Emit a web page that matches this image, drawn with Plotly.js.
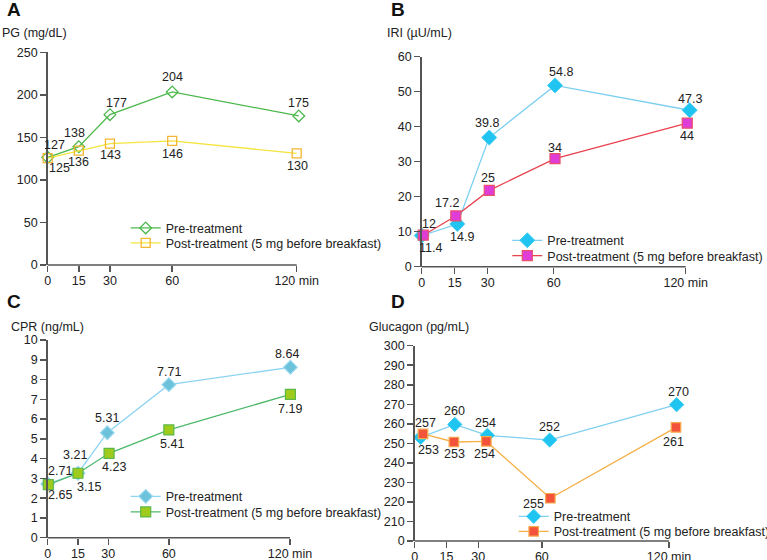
<!DOCTYPE html>
<html><head><meta charset="utf-8">
<script src="https://cdn.plot.ly/plotly-3.0.1.min.js"></script>
<style>html,body{margin:0;padding:0;background:#fff}</style>
</head><body><div id="chart" style="width:767px;height:560px"></div>
<script>
// ---------- DATA ----------
const timeTicks = [0, 15, 30, 60, 120];
const timeTickText = ["0", "15", "30", "60", "120 min"];
const seriesNames = ["Pre-treatment", "Post-treatment (5 mg before breakfast)"];

// Panel A: PG (mg/dL)
const pgPreX = [0, 15, 30, 60, 121];
const pgPreY = [126.5, 139, 176.7, 203.4, 175.2];
const pgPreLabels = ["127", "138", "177", "204", "175"];
const pgPostX = [0, 15, 30, 60, 120];
const pgPostY = [125.5, 134.4, 142.6, 145.8, 131.3];
const pgPostLabels = ["125", "136", "143", "146", "130"];

// Panel B: IRI (µU/mL)
const iriPreX = [0, 16.2, 30.7, 60.6, 121.8];
const iriPreY = [8.9, 12.2, 36.9, 51.8, 44.7];
const iriPreLabels = ["11.4", "14.9", "39.8", "54.8", "47.3"];
const iriPostX = [0.7, 15.5, 30.7, 60.6, 120.7];
const iriPostY = [9.0, 14.5, 21.8, 30.9, 41.0];
const iriPostLabels = ["12", "17.2", "25", "34", "44"];

// Panel C: CPR (ng/mL)
const cprPreX = [0, 15, 29.5, 60, 120.2];
const cprPreY = [2.72, 3.26, 5.31, 7.74, 8.62];
const cprPreLabels = ["2.71", "3.21", "5.31", "7.71", "8.64"];
const cprPostX = [0.3, 15, 30.4, 60, 120.2];
const cprPostY = [2.68, 3.26, 4.27, 5.45, 7.25];
const cprPostLabels = ["2.65", "3.15", "4.23", "5.41", "7.19"];

// Panel D: Glucagon (pg/mL), broken axis 0 | 210..300
const gluPreX = [2.8, 18.9, 34.3, 63.7, 123.6];
const gluPreY = [253.1, 259.7, 254.1, 251.7, 269.8];
const gluPreLabels = ["253", "260", "254", "252", "270"];
const gluPostX = [3.9, 18.5, 33.8, 64, 123.3];
const gluPostY = [254.9, 250.7, 251.0, 221.9, 258.2];
const gluPostLabels = ["257", "253", "254", "255", "261"];
const gluTickVals = [0, 210, 220, 230, 240, 250, 260, 270, 280, 290, 300];
const gluBreakBase = 200; // axis break: values above the break are drawn as (v - 200)

// ---------- STYLE / LAYOUT ----------
const W = 767, H = 560;
const FONT = "Liberation Sans, Arial, Helvetica, sans-serif";
const FS = 12.5;
const TXT = "#222";
const AXC = "#555";
const px = v => v / W, py = v => 1 - v / H;
const XMAX = 126; // axis range end (axis line drawn only to 120)

// label offsets (dx, dy in px; dy positive = downward)
const offA_pre = [[7, -12], [-4, -14], [6.7, -11.4], [0, -14.7], [0, -13.3]];
const offA_post = [[12, 10], [0, 11.6], [1, 11.3], [0, 12.7], [1, 12.4]];
const offB_pre = [[9, 12.6], [5, 13.3], [-2.6, -14.4], [5.7, -13.6], [0, -11.6]];
const offB_post = [[5.7, -11.3], [-8.4, -12.7], [-1, -12], [0, -11], [0, 12.7]];
const offC_pre = [[12.6, -13], [-2.7, -18.3], [0, -15], [0.6, -12.4], [-3, -13.3]];
const offC_post = [[11.7, 10.3], [10.6, 13.4], [5, 13.4], [3.6, 14], [0, 14.7]];
const offD_pre = [[7.6, 12.7], [0, -13.3], [-1.6, -12], [0, -13.3], [1.6, -12.4]];
const offD_post = [[2.7, -10.4], [0.7, 12], [-1.6, 12.7], [-17, 6], [-2, 15]];

// pixel positions of x=0 and x=120, y-top and y-bottom
const panels = [
  {key: "", x0: 47.7, x120: 296.7, top: 52.3, bot: 265, yr: [0, 250], dt: 50},
  {key: "2", x0: 421.7, x120: 685.7, top: 56.7, bot: 266.7, yr: [0, 60], dt: 10},
  {key: "3", x0: 47.7, x120: 290, top: 340, bot: 537.7, yr: [0, 10], dt: 1},
  {key: "4", x0: 414.7, x120: 669, top: 345.7, bot: 541, yr: [0, 100], dt: 10}
];

const axBase = {
  showgrid: false, zeroline: false, showline: true, linecolor: AXC, linewidth: 1.5,
  ticks: "outside", ticklen: 6, tickwidth: 1.5, tickcolor: AXC,
  tickfont: {family: FONT, size: FS, color: TXT}, fixedrange: true, automargin: false
};

const layout = {
  width: W, height: H, margin: {l: 0, r: 0, t: 0, b: 0, autoexpand: false},
  paper_bgcolor: "#fff", plot_bgcolor: "rgba(0,0,0,0)",
  font: {family: FONT, size: FS, color: TXT},
  annotations: [], shapes: [], showlegend: true
};

panels.forEach(p => {
  const right = p.x0 + (p.x120 - p.x0) * XMAX / 120;
  layout["xaxis" + p.key] = Object.assign({}, axBase, {
    domain: [px(p.x0), px(right)], range: [0, XMAX], showline: false,
    tickmode: "array", tickvals: timeTicks, ticktext: timeTickText,
    ticklabelstandoff: -2, anchor: "y" + p.key
  });
  const ya = Object.assign({}, axBase, {
    domain: [py(p.bot), py(p.top)], range: p.yr, dtick: p.dt, tick0: 0,
    anchor: "x" + p.key
  });
  if (p.key === "4") {
    ya.tickmode = "array";
    ya.tickvals = gluTickVals.map(v => v === 0 ? 0 : v - gluBreakBase);
    ya.ticktext = gluTickVals.map(String);
  }
  layout["yaxis" + p.key] = ya;
  layout.shapes.push({
    type: "line", xref: "x" + p.key, yref: "paper",
    x0: 0, x1: timeTicks[timeTicks.length - 1], y0: py(p.bot), y1: py(p.bot),
    line: {color: AXC, width: 1.5}, layer: "above"
  });
});

const traces = [];
function addSeries(xs, ys, labels, offs, axKey, legendId, name, marker, lineColor, legendPos) {
  traces.push({
    type: "scatter", mode: "lines+markers", x: xs, y: ys, name: name,
    xaxis: "x" + axKey, yaxis: "y" + axKey, cliponaxis: false,
    line: {color: lineColor, width: 1.3}, marker: marker,
    legend: legendId, showlegend: true, hoverinfo: "skip"
  });
  labels.forEach((t, i) => {
    layout.annotations.push({
      xref: "x" + axKey, yref: "y" + axKey, x: xs[i], y: ys[i], text: t,
      showarrow: false, xanchor: "center", yanchor: "middle",
      xshift: offs[i][0], yshift: -offs[i][1],
      font: {family: FONT, size: FS, color: TXT}
    });
  });
  layout[legendId] = {
    x: px(legendPos[0] - 36), y: py(legendPos[1]), xanchor: "left", yanchor: "middle",
    bgcolor: "rgba(0,0,0,0)", borderwidth: 0,
    font: {family: FONT, size: FS, color: TXT}
  };
}

const glu = v => v - gluBreakBase;

addSeries(pgPreX, pgPreY, pgPreLabels, offA_pre, "", "legend", seriesNames[0],
  {symbol: "diamond-open", size: 9, color: "#4cb84c", line: {width: 1.3, color: "#4cb84c"}}, "#4cb84c", [161.7, 228.3]);
addSeries(pgPostX, pgPostY, pgPostLabels, offA_post, "", "legend2", seriesNames[1],
  {symbol: "square-open", size: 9, color: "#f2b632", line: {width: 1.3, color: "#f2b632"}}, "#f3e53e", [161.7, 243.3]);

addSeries(iriPreX, iriPreY, iriPreLabels, offB_pre, "2", "legend3", seriesNames[0],
  {symbol: "diamond", size: 11.5, color: "#1fc4f0", line: {width: 1, color: "#3fcdf2"}}, "#7dcff0", [543.3, 240.7]);
addSeries(iriPostX, iriPostY, iriPostLabels, offB_post, "2", "legend4", seriesNames[1],
  {symbol: "square", size: 10, color: "#e03cd8", line: {width: 1.2, color: "#e8506a"}}, "#e8434f", [543.3, 256]);

addSeries(cprPreX, cprPreY, cprPreLabels, offC_pre, "3", "legend5", seriesNames[0],
  {symbol: "diamond", size: 10.5, color: "#6cc2da", line: {width: 1.2, color: "#98d8ee"}}, "#8dd4f2", [161.7, 496.7]);
addSeries(cprPostX, cprPostY, cprPostLabels, offC_post, "3", "legend6", seriesNames[1],
  {symbol: "square", size: 10, color: "#9fcc1c", line: {width: 1.2, color: "#5cb848"}}, "#4cb86a", [161.7, 512.3]);

addSeries(gluPreX, gluPreY.map(glu), gluPreLabels, offD_pre, "4", "legend7", seriesNames[0],
  {symbol: "diamond", size: 11, color: "#1fc4f0", line: {width: 1, color: "#3fcdf2"}}, "#80d0f0", [549.7, 516.7]);
addSeries(gluPostX, gluPostY.map(glu), gluPostLabels, offD_post, "4", "legend8", seriesNames[1],
  {symbol: "square", size: 9.5, color: "#f2533a", line: {width: 1.2, color: "#f7a94a"}}, "#f5b048", [549.7, 531.7]);

// panel letters & y-axis titles
const letters = [["A", 13.7, 9.5], ["B", 397.7, 9.5], ["C", 13.7, 301.7], ["D", 397.7, 301.7]];
letters.forEach(l => layout.annotations.push({
  xref: "paper", yref: "paper", x: px(l[1]), y: py(l[2]), text: "<b>" + l[0] + "</b>",
  showarrow: false, xanchor: "center", yanchor: "middle",
  font: {family: FONT, size: 19, color: "#111"}
}));
const yTitles = [["PG (mg/dL)", 0, 33.3], ["IRI (µU/mL)", 385, 33.3], ["CPR (ng/mL)", 9, 327], ["Glucagon (pg/mL)", 366.7, 327]];
yTitles.forEach(t => layout.annotations.push({
  xref: "paper", yref: "paper", x: px(t[1]), y: py(t[2]), text: t[0],
  showarrow: false, xanchor: "left", yanchor: "middle",
  font: {family: FONT, size: FS, color: TXT}
}));

Plotly.newPlot("chart", traces, layout, {displayModeBar: false, staticPlot: true});
</script>
</body></html>
